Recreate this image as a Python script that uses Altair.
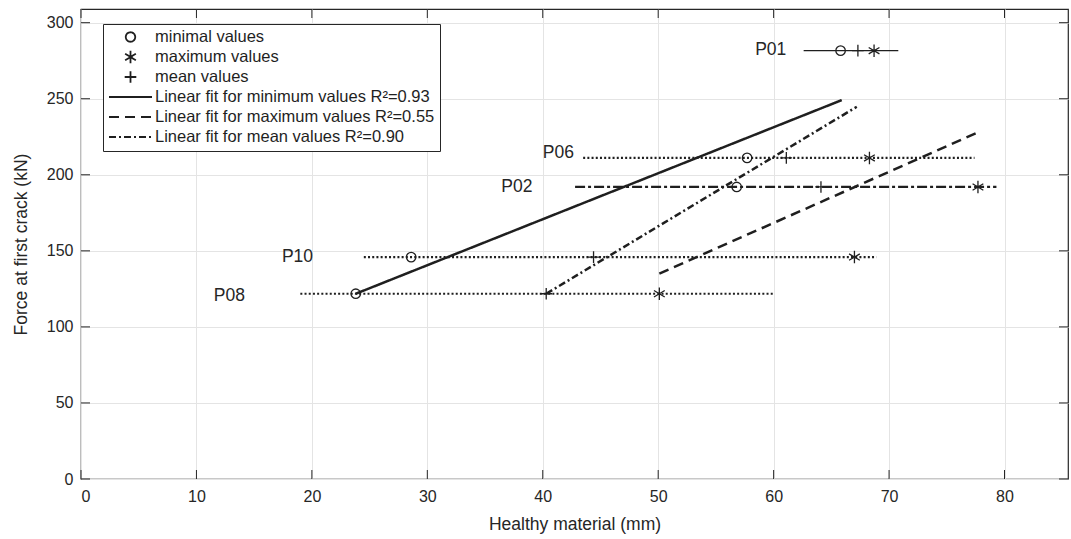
import altair as alt
import pandas as pd

# ---------------- data ----------------
groups = ["P01", "P06", "P02", "P10", "P08"]
force = [281.6, 211.1, 192.0, 145.9, 121.8]
range_lo = [62.6, 43.5, 42.8, 24.5, 19.0]
range_hi = [70.8, 77.4, 79.3, 68.9, 60.1]
min_vals = [65.8, 57.7, 56.8, 28.6, 23.8]
mean_vals = [67.3, 61.1, 64.1, 44.4, 40.3]
max_vals = [68.7, 68.3, 77.7, 67.0, 50.1]
range_style = ["solid", "dotted", "dashdot", "dotted", "dotted"]
label_x = [61.1, 42.7, 39.1, 20.1, 14.2]
label_force = [282.0, 214.0, 192.0, 146.0, 120.0]

series_names = [
    "minimal values",
    "maximum values",
    "mean values",
    "Linear fit for minimum values R²=0.93",
    "Linear fit for maximum values R²=0.55",
    "Linear fit for mean values R²=0.90",
]
fit_x_start = [23.8, 50.1, 40.3]
fit_y_start = [121.8, 135.0, 121.8]
fit_x_end = [65.9, 77.6, 67.2]
fit_y_end = [249.1, 227.6, 244.7]

x_ticks = [0, 10, 20, 30, 40, 50, 60, 70, 80]
y_ticks = [0, 50, 100, 150, 200, 250, 300]

# ---------------- tables ----------------
ranges = pd.DataFrame({"group": groups, "force": force, "lo": range_lo,
                       "hi": range_hi, "style": range_style})
labels = pd.DataFrame({"group": groups, "lx": label_x, "ly": label_force})
pts_rows = []
for i, g in enumerate(groups):
    pts_rows.append({"group": g, "force": force[i], "x": min_vals[i], "series": series_names[0]})
    pts_rows.append({"group": g, "force": force[i], "x": max_vals[i], "series": series_names[1]})
    pts_rows.append({"group": g, "force": force[i], "x": mean_vals[i], "series": series_names[2]})
points = pd.DataFrame(pts_rows)
fits = pd.DataFrame({"series": series_names[3:], "x": fit_x_start, "y": fit_y_start,
                     "x2": fit_x_end, "y2": fit_y_end})
xt = pd.DataFrame({"v": x_ticks})
yt = pd.DataFrame({"v": y_ticks})

INK = "#1f1f1f"
AX = "#262626"
FONT = "Liberation Sans"
W, H = 987, 470

xscale = alt.Scale(domain=[0, 85.5], nice=False, zero=False)
yscale = alt.Scale(domain=[0, 309], nice=False, zero=False)

x_axis = alt.Axis(values=x_ticks, grid=True, domain=False, ticks=False,
                  labelFontSize=16, labelPadding=9, labelColor=AX, labelFont=FONT,
                  title="Healthy material (mm)", titleFontSize=17.5, titleFont=FONT,
                  titleColor=AX, titleFontWeight="normal", titlePadding=11)
y_axis = alt.Axis(values=y_ticks, grid=True, domain=False, ticks=False,
                  labelFontSize=16, labelPadding=8, labelColor=AX, labelFont=FONT,
                  title="Force at first crack (kN)", titleFontSize=17.5, titleFont=FONT,
                  titleColor=AX, titleFontWeight="normal", titlePadding=16)


def X(field):
    return alt.X(field, scale=xscale, axis=x_axis)


def Y(field):
    return alt.Y(field, scale=yscale, axis=y_axis)


# legend symbols: all drawn at one big symbol size; point glyphs are small custom paths
SYM = 1849  # sqrt -> 43 px long line symbols
shape_range = [
    "M0.22,0A0.22,0.22 0 1,1 -0.22,0A0.22,0.22 0 1,1 0.22,0Z",
    "M0,-0.29L0,0.29M-0.25,-0.15L0.25,0.15M-0.25,0.15L0.25,-0.15",
    "M-0.27,0L0.27,0M0,-0.27L0,0.27",
    "stroke", "stroke", "stroke",
]
dash_range = [[1, 0], [1, 0], [1, 0], [1, 0], [10, 6], [7, 3, 2, 3]]

legend = alt.Legend(orient="none", legendX=22, legendY=15, title=None,
                    strokeColor=AX, fillColor="white", padding=5,
                    labelFont=FONT, labelFontSize=16.5, labelColor=INK,
                    labelLimit=500, labelOffset=2, clipHeight=16, rowPadding=3,
                    symbolSize=SYM, symbolStrokeWidth=1.8, symbolStrokeColor=INK,
                    symbolFillColor="transparent")

# range lines
def range_layer(style, dash, width):
    return alt.Chart(ranges).transform_filter(
        alt.datum.style == style
    ).mark_rule(color=INK, strokeDash=dash, strokeWidth=width).encode(
        x=X("lo:Q"), x2="hi:Q", y=Y("force:Q"),
    )

r_solid = range_layer("solid", [1, 0], 1.3)
r_dot = range_layer("dotted", [2, 2.2], 2.2)
r_dashdot = range_layer("dashdot", [10, 3, 3, 3], 2.2)

# fit lines
fit_layer = alt.Chart(fits).mark_rule(color=INK, strokeWidth=2.5).encode(
    x=X("x:Q"), y=Y("y:Q"), x2="x2:Q", y2="y2:Q",
    strokeDash=alt.StrokeDash("series:N", scale=alt.Scale(domain=series_names, range=dash_range),
                              legend=legend),
)

# markers
pt_layer = alt.Chart(points).mark_point(filled=False, color=INK, strokeWidth=1.3,
                                         opacity=1, size=SYM).encode(
    x=X("x:Q"), y=Y("force:Q"),
    shape=alt.Shape("series:N", scale=alt.Scale(domain=series_names, range=shape_range),
                    legend=legend),
)

# group labels
txt = alt.Chart(labels).mark_text(align="right", baseline="middle", fontSize=17.5,
                                  font=FONT, color=AX).encode(
    x=X("lx:Q"), y=Y("ly:Q"), text="group:N",
)

# inward ticks (MATLAB style) on all four sides
TK = 9
tick_b = alt.Chart(xt).mark_rule(color=AX, strokeWidth=1).encode(
    x=X("v:Q"), y=alt.value(H), y2=alt.value(H - TK))
tick_t = alt.Chart(xt).mark_rule(color=AX, strokeWidth=1).encode(
    x=X("v:Q"), y=alt.value(0), y2=alt.value(TK))
tick_l = alt.Chart(yt).mark_rule(color=AX, strokeWidth=1).encode(
    y=Y("v:Q"), x=alt.value(0), x2=alt.value(TK))
tick_r = alt.Chart(yt).mark_rule(color=AX, strokeWidth=1).encode(
    y=Y("v:Q"), x=alt.value(W), x2=alt.value(W - TK))

chart = alt.layer(
    tick_b, tick_t, tick_l, tick_r,
    r_solid, r_dot, r_dashdot, fit_layer, pt_layer, txt,
).properties(
    width=W, height=H,
    padding={"left": 81, "top": 9, "right": 3, "bottom": 60},
    autosize=alt.AutoSizeParams(type="none"),
    background="white",
).configure_view(
    stroke=AX, strokeWidth=1.2
).configure_axis(
    gridColor="#e4e4e4", gridWidth=1
)

chart.save("out.html", embed_options={"renderer": "svg", "actions": False})
